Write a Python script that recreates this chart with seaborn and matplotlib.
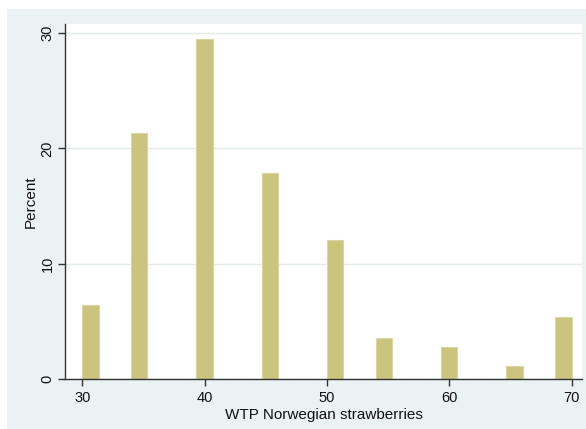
import numpy as np
import pandas as pd
import matplotlib
matplotlib.use("Agg")
import matplotlib.pyplot as plt
import seaborn as sns
from matplotlib.patches import Rectangle

# Data
wtp_values = [30, 35, 40, 45, 50, 55, 60, 65, 70]
percent = [6.45, 21.3, 29.5, 17.9, 12.1, 3.6, 2.8, 1.1, 5.35]
x_ticks = [30, 40, 50, 60, 70]
y_ticks = [0, 10, 20, 30]

sns.set_theme(style="white")
plt.rcParams['font.family'] = ['Liberation Sans', 'DejaVu Sans']

W, H = 586, 429
fig = plt.figure(figsize=(W / 100, H / 100), dpi=100, facecolor='white')
bg = Rectangle((7 / W, 0), 1, 1 - 9 / H, transform=fig.transFigure,
               facecolor='#eaf2f3', edgecolor='none', zorder=-10)
fig.add_artist(bg)

ax = fig.add_axes([65 / W, 1 - 379 / H, (582 - 65) / W, (379 - 24) / H])
ax.set_zorder(5)
ax.set_facecolor('white')

df = pd.DataFrame({"wtp": wtp_values, "pct": percent})
sns.histplot(data=df, x="wtp", weights="pct", bins=30, binrange=(30, 70), ax=ax,
             color='#cbc47e', edgecolor='#dad5a2', linewidth=0.8, alpha=1)

ax.set_xlim(28.59, 70.85)
ax.set_ylim(0, 30.8)
ax.set_xticks(x_ticks)
ax.set_yticks(y_ticks)
ax.set_yticklabels([str(v) for v in y_ticks], rotation=90, va='center')

ax.yaxis.grid(True, color='#e3ebed', linewidth=1.0)
ax.xaxis.grid(False)
ax.set_axisbelow(True)

for s in ['top', 'right']:
    ax.spines[s].set_visible(False)
for s in ['left', 'bottom']:
    ax.spines[s].set_color('#333333')
    ax.spines[s].set_linewidth(1.0)

ax.tick_params(axis='both', which='major', direction='out', length=5, width=1.0,
               color='#333333', labelsize=10.5, labelcolor='#111111',
               bottom=True, left=True)
ax.tick_params(axis='x', pad=3.5)
ax.tick_params(axis='y', pad=2.5)

ax.set_xlabel('WTP Norwegian strawberries', fontsize=11, color='#111111', labelpad=2)
ax.set_ylabel('Percent', fontsize=11, color='#111111', labelpad=2)

fig.savefig('out.png', dpi=100, facecolor='white')
